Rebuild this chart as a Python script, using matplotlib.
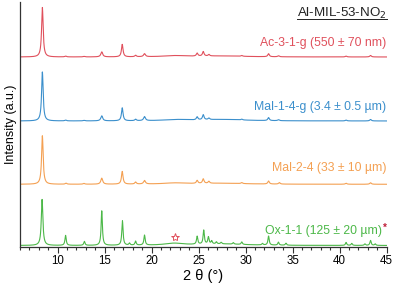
import numpy as np
import matplotlib.pyplot as plt

plt.rcParams['font.family'] = ['Liberation Sans', 'DejaVu Sans']

################################################################################
# Peak tables: (2theta, height, half width)
peaks_ac = [(8.38, 49.5, 0.10), (10.85, 0.8, 0.10), (12.8, 0.5, 0.10),
            (14.7, 5.0, 0.12), (16.88, 12.5, 0.10), (18.3, 1.5, 0.10),
            (19.25, 3.0, 0.12), (22.5, 1.2, 1.5), (24.85, 3.0, 0.10),
            (25.5, 4.5, 0.10), (26.1, 1.5, 0.10), (27.5, 1.0, 3.0),
            (29.6, 0.8, 0.10), (32.45, 3.0, 0.10), (33.5, 1.0, 0.10),
            (40.7, 0.8, 0.10), (43.3, 1.5, 0.10)]
peaks_mal14 = [(8.38, 49.0, 0.10), (10.85, 0.8, 0.10), (12.8, 0.5, 0.10),
               (14.7, 5.0, 0.12), (16.88, 13.0, 0.10), (18.3, 1.5, 0.10),
               (19.25, 4.0, 0.12), (22.5, 1.2, 1.5), (24.85, 3.0, 0.10),
               (25.5, 5.0, 0.10), (26.1, 1.5, 0.10), (27.5, 1.5, 3.0),
               (29.6, 0.8, 0.10), (32.45, 3.0, 0.10), (33.5, 1.0, 0.10),
               (40.7, 0.8, 0.10), (43.3, 1.5, 0.10)]
peaks_mal24 = [(8.38, 48.5, 0.10), (10.9, 1.0, 0.10), (12.8, 0.8, 0.10),
               (14.7, 6.0, 0.12), (16.88, 12.7, 0.10), (18.3, 2.0, 0.10),
               (19.25, 3.5, 0.12), (22.5, 1.2, 1.5), (24.85, 3.0, 0.10),
               (25.5, 4.5, 0.10), (26.1, 2.0, 0.10), (27.5, 1.0, 3.0),
               (29.6, 1.0, 0.10), (32.45, 3.0, 0.10), (33.6, 1.5, 0.10),
               (40.7, 1.0, 0.10), (43.3, 1.5, 0.10)]
peaks_ox = [(8.35, 46.0, 0.10), (10.85, 10.0, 0.08), (12.85, 4.0, 0.08),
            (14.7, 34.5, 0.08), (16.9, 24.5, 0.08), (17.65, 2.0, 0.08),
            (18.3, 4.0, 0.08), (19.25, 10.0, 0.08), (22.4, 2.0, 1.2),
            (24.85, 8.0, 0.08), (25.55, 14.0, 0.08), (26.05, 7.0, 0.08),
            (26.4, 3.0, 0.08), (26.9, 2.0, 0.08), (27.4, 1.5, 0.08),
            (27.5, 1.5, 3.0), (28.7, 1.5, 0.08), (29.6, 2.5, 0.08),
            (31.8, 1.5, 0.08), (32.45, 9.0, 0.08), (33.5, 3.0, 0.08),
            (34.3, 2.0, 0.08), (40.7, 3.0, 0.08), (41.3, 2.0, 0.08),
            (42.7, 1.5, 0.08), (43.3, 5.0, 0.08), (43.8, 1.5, 0.08)]

offsets = [190.0, 126.0, 62.7, 1.5]
labels = ['Ac-3-1-g (550 \u00b1 70 nm)', 'Mal-1-4-g (3.4 \u00b1 0.5 \u00b5m)',
          'Mal-2-4 (33 \u00b1 10 \u00b5m)', 'Ox-1-1 (125 \u00b1 20 \u00b5m)']
label_y = [43, 107, 168, 230.7]  # pixel rows of label centres
colors = ['#e0505c', '#3b8fcc', '#f4a052', '#4cb848']
star_pos = (22.45, 10.3)

################################################################################
W, H = 397, 293
fig = plt.figure(figsize=(W / 100, H / 100), dpi=100)
ax = fig.add_axes([20 / W, (H - 247) / H, 366.5 / W, 245 / H])

tt = np.linspace(6, 45, 4000)
for peaks, off, col in zip([peaks_ac, peaks_mal14, peaks_mal24, peaks_ox], offsets, colors):
    yy = np.full_like(tt, off)
    for x0, h, g in peaks:
        yy += h * g**2 / ((tt - x0)**2 + g**2)
    ax.plot(tt, yy, color=col, lw=0.8)

ax.plot(*star_pos, marker='*', ms=6, mfc='none', mec='#e0505c', mew=0.7)

ax.set_xlim(6, 45)
ax.set_ylim(0, 245)
ax.set_yticks([])
ax.set_xticks(np.arange(10, 46, 5))
ax.set_xticks(np.arange(6, 46, 1), minor=True)
ax.tick_params(axis='x', which='major', length=4, width=0.8, labelsize=8.3, pad=2, color='#333333')
ax.tick_params(axis='x', which='minor', length=2.5, width=0.8, color='#333333')
for s in ['top', 'right']:
    ax.spines[s].set_visible(False)
for s in ['left', 'bottom']:
    ax.spines[s].set_color('#333333')
    ax.spines[s].set_linewidth(0.9)

ax.set_xlabel('2 \u03b8 (\u00b0)', fontsize=10.5, labelpad=1)
ax.set_ylabel('Intensity (a.u.)', fontsize=9, labelpad=2)

for lab, yl, col in zip(labels, label_y, colors):
    xr = 386.5 if lab[:2] != 'Ox' else 382
    fig.text(xr / W, (H - yl) / H, lab, ha='right', va='center', color=col, fontsize=8.8)
fig.text(385 / W, (H - 227.5) / H, '*', ha='center', va='center', color='#c0203a', fontsize=7, fontweight='bold')

title = fig.text(386.5 / W, (H - 16.5) / H, 'Al-MIL-53-NO$_2$', ha='right', va='baseline',
                 fontsize=9.6, color='#222222')
fig.canvas.draw()
bb = title.get_window_extent()
uy = (H - 18.5) / H
fig.add_artist(plt.Line2D([bb.x0 / W, bb.x1 / W], [uy, uy], color='#222222', lw=0.7))

fig.savefig('out.png', dpi=100)
